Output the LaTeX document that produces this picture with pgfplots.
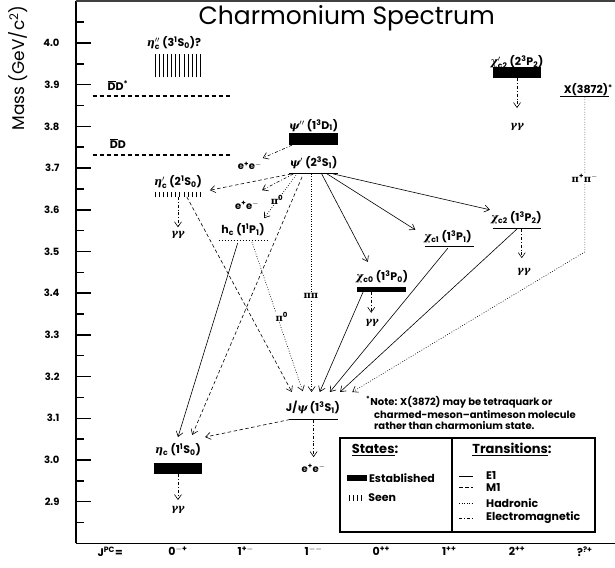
\documentclass[border=0pt]{standalone}
\usepackage{fontspec}
\setmainfont{Poppins}
\newfontfamily\grk{DejaVu Serif}
\usepackage{amsmath}
\usepackage{pgfplots}
\pgfplotsset{compat=1.18}
\usetikzlibrary{arrows.meta}

\newcommand{\g}[1]{{\grk\bfseries\itshape #1}}
\newcommand{\gu}[1]{{\grk\bfseries #1}}

\tikzset{
  e1/.style={black, line width=0.6pt, -{Straight Barb[length=5pt,width=7pt]}},
  m1/.style={e1, dash pattern=on 3.5pt off 2.5pt},
  had/.style={e1, dash pattern=on 0.8pt off 1.7pt},
  em/.style={e1, dash pattern=on 3pt off 2pt on 0.8pt off 2pt},
  lab/.style={font=\bfseries\fontsize{11}{13}\selectfont, inner sep=1pt},
  dec/.style={font=\bfseries\fontsize{10}{12}\selectfont, inner sep=1pt},
}

\begin{document}
\begin{tikzpicture}
\begin{axis}[
  scale only axis, width=539pt, height=542.1pt,
  xmin=-1.504, xmax=6.445, ymin=2.8, ymax=4.1,
  axis x line*=bottom, axis y line*=left,
  axis line style={line width=1.6pt},
  xtick={-1,0,1,2,3,4,5,6},
  xticklabels={{J\textsuperscript{PC}=}, {0\textsuperscript{$-$+}}, {1\textsuperscript{+$-$}},
    {1\textsuperscript{$-$$-$}}, {0\textsuperscript{++}}, {1\textsuperscript{++}},
    {2\textsuperscript{++}}, {?\textsuperscript{?+}}},
  x tick style={draw=none},
  x tick label style={font=\bfseries\fontsize{11}{13}\selectfont},
  ytick={2.9,3.0,3.1,3.2,3.3,3.4,3.5,3.6,3.7,3.8,3.9,4.0},
  minor ytick={2.85,2.95,3.05,3.15,3.25,3.35,3.45,3.55,3.65,3.75,3.85,3.95,4.05},
  yticklabel style={xshift=-13pt, /pgf/number format/fixed, /pgf/number format/fixed zerofill,
    /pgf/number format/precision=1, /pgf/number format/assume math mode=true},
  tick align=inside,
  major tick length=15pt, minor tick length=8pt,
  y tick style={line width=1.5pt, black},
  y tick label style={font=\bfseries\fontsize{10}{12}\selectfont},
  clip=false,
]
\coordinate (BL) at (rel axis cs:0,0);
\draw[line width=1.6pt, black!75] (rel axis cs:0,1) -- (rel axis cs:1,1);

% thresholds
\addplot[black, line width=1.5pt, dash pattern=on 4pt off 3pt] coordinates {(-1.26,3.873) (0.77,3.873)};
\addplot[black, line width=1.5pt, dash pattern=on 4pt off 3pt] coordinates {(-1.26,3.731) (0.77,3.731)};

% established states with width (bars)
\addplot[black, line width=11pt] coordinates {(-0.36,2.980) (0.36,2.980)};   % eta_c
\addplot[black, line width=12pt] coordinates {(1.64,3.770) (2.36,3.770)};    % psi(3770)
\addplot[black, line width=5pt]  coordinates {(2.64,3.410) (3.36,3.410)};    % chi_c0
\addplot[black, line width=11pt] coordinates {(4.64,3.929) (5.36,3.929)};    % chi_c2'
% narrow states
\addplot[black, line width=1pt] coordinates {(1.64,3.097) (2.36,3.097)};     % J/psi
\addplot[black, line width=1pt] coordinates {(1.64,3.686) (2.36,3.686)};     % psi'
\addplot[black, line width=1pt] coordinates {(3.64,3.511) (4.36,3.511)};     % chi_c1
\addplot[black, line width=1pt] coordinates {(4.64,3.556) (5.36,3.556)};     % chi_c2
\addplot[black, line width=1pt] coordinates {(5.64,3.871) (6.36,3.871)};     % X(3872)
% seen states
\addplot[black, line width=1pt, dash pattern=on 1pt off 2pt] coordinates {(0.60,3.526) (1.32,3.526)}; % h_c
\addplot[black, line width=0.6pt, unbounded coords=jump] coordinates {
  (-0.34,3.631) (-0.34,3.643) (-0.34,nan) (-0.28,3.631) (-0.28,3.643) (-0.28,nan)
  (-0.22,3.631) (-0.22,3.643) (-0.22,nan) (-0.16,3.631) (-0.16,3.643) (-0.16,nan)
  (-0.10,3.631) (-0.10,3.643) (-0.10,nan) (-0.04,3.631) (-0.04,3.643) (-0.04,nan)
  (0.02,3.631) (0.02,3.643) (0.02,nan) (0.09,3.631) (0.09,3.643) (0.09,nan)
  (0.15,3.631) (0.15,3.643) (0.15,nan) (0.21,3.631) (0.21,3.643) (0.21,nan)
  (0.27,3.631) (0.27,3.643) (0.27,nan) (0.33,3.631) (0.33,3.643)};
\addplot[black, line width=0.6pt, unbounded coords=jump] coordinates {
  (-0.34,3.918) (-0.34,3.974) (-0.34,nan) (-0.28,3.918) (-0.28,3.974) (-0.28,nan)
  (-0.22,3.918) (-0.22,3.974) (-0.22,nan) (-0.16,3.918) (-0.16,3.974) (-0.16,nan)
  (-0.10,3.918) (-0.10,3.974) (-0.10,nan) (-0.04,3.918) (-0.04,3.974) (-0.04,nan)
  (0.02,3.918) (0.02,3.974) (0.02,nan) (0.09,3.918) (0.09,3.974) (0.09,nan)
  (0.15,3.918) (0.15,3.974) (0.15,nan) (0.21,3.918) (0.21,3.974) (0.21,nan)
  (0.27,3.918) (0.27,3.974) (0.27,nan) (0.33,3.918) (0.33,3.974)};

% E1 transitions
\addplot[e1] coordinates {(2.12,3.686) (2.80,3.475)};
\addplot[e1] coordinates {(2.20,3.686) (3.50,3.552)};
\addplot[e1] coordinates {(2.29,3.686) (4.60,3.600)};
\addplot[e1] coordinates {(2.73,3.403) (2.09,3.163)};
\addplot[e1] coordinates {(3.98,3.508) (2.24,3.163)};
\addplot[e1] coordinates {(5.00,3.554) (2.39,3.163)};
\addplot[e1] coordinates {(0.88,3.520) (0.00,3.055)};
% M1 transitions
\addplot[m1] coordinates {(1.67,3.686) (0.47,3.647)};
\addplot[m1] coordinates {(1.83,3.679) (0.21,3.060)};
\addplot[m1] coordinates {(0.13,3.631) (1.68,3.163)};
\addplot[m1] coordinates {(1.65,3.097) (0.40,3.055)};
% hadronic transitions
\addplot[had] coordinates {(1.74,3.683) (1.27,3.580)};
\addplot[had] coordinates {(1.97,3.686) (1.97,3.163)};
\addplot[had] coordinates {(1.09,3.523) (1.84,3.165)};
\addplot[had] coordinates {(6.00,3.871) (6.00,3.499) (2.57,3.163)};
% electromagnetic decays
\addplot[em] coordinates {(0.00,3.631) (0.00,3.558)};
\addplot[em] coordinates {(0.00,2.966) (0.00,2.904)};
\addplot[em] coordinates {(2.85,3.403) (2.85,3.353)};
\addplot[em] coordinates {(5.07,3.554) (5.07,3.484)};
\addplot[em] coordinates {(5.00,3.916) (5.00,3.844)};
\addplot[em] coordinates {(2.00,3.096) (2.00,3.007)};
\addplot[em] coordinates {(1.68,3.755) (1.25,3.724)};
\addplot[em] coordinates {(1.70,3.686) (1.24,3.647)};

% title and axis label
\node[font=\fontsize{25}{29}\selectfont] at (axis cs:2.49,4.060) {Charmonium Spectrum};
\node[rotate=90, font=\fontsize{17}{19}\selectfont] at (axis cs:-2.36,3.940) {Mass (GeV/c\textsuperscript{2})};

% threshold labels
\node[lab] at (axis cs:-0.885,3.899) {$\overline{\text{D}}$D\textsuperscript{*}};
\node[lab] at (axis cs:-0.885,3.758) {$\overline{\text{D}}$D};

% state labels
\node[lab] at (axis cs:-0.06,4.000) {$\text{\g{η}}_{\text{c}}^{\prime\prime}$ (3\textsuperscript{1}S\textsubscript{0})?};
\node[lab] at (axis cs:0,3.667) {$\text{\g{η}}_{\text{c}}^{\prime}$ (2\textsuperscript{1}S\textsubscript{0})};
\node[lab] at (axis cs:0,3.024) {\g{η}\textsubscript{c} (1\textsuperscript{1}S\textsubscript{0})};
\node[lab] at (axis cs:0.96,3.552) {h\textsubscript{c} (1\textsuperscript{1}P\textsubscript{1})};
\node[lab] at (axis cs:1.99,3.125) {J/\g{ψ} (1\textsuperscript{3}S\textsubscript{1})};
\node[lab] at (axis cs:2.0,3.712) {\g{ψ}$^{\prime}$ (2\textsuperscript{3}S\textsubscript{1})};
\node[lab] at (axis cs:2.0,3.803) {\g{ψ}$^{\prime\prime}$ (1\textsuperscript{3}D\textsubscript{1})};
\node[lab] at (axis cs:3.01,3.439) {\g{χ}\textsubscript{c0} (1\textsuperscript{3}P\textsubscript{0})};
\node[lab] at (axis cs:3.98,3.535) {\g{χ}\textsubscript{c1} (1\textsuperscript{3}P\textsubscript{1})};
\node[lab] at (axis cs:4.99,3.580) {\g{χ}\textsubscript{c2} (1\textsuperscript{3}P\textsubscript{2})};
\node[lab] at (axis cs:5.0,3.954) {$\text{\g{χ}}_{\text{c2}}^{\prime}$ (2\textsuperscript{3}P\textsubscript{2})};
\node[lab] at (axis cs:6.05,3.887) {X(3872)\textsuperscript{*}};

% decay labels
\node[dec] at (axis cs:0,3.540) {\g{γγ}};
\node[dec] at (axis cs:0,2.880) {\g{γγ}};
\node[dec] at (axis cs:2.86,3.329) {\g{γγ}};
\node[dec] at (axis cs:5.10,3.451) {\g{γγ}};
\node[dec] at (axis cs:5.0,3.799) {\g{γγ}};
\node[dec] at (axis cs:1.06,3.705) {e\textsuperscript{+}e\textsuperscript{$-$}};
\node[dec] at (axis cs:1.02,3.611) {e\textsuperscript{+}e\textsuperscript{$-$}};
\node[dec] at (axis cs:2.0,2.980) {e\textsuperscript{+}e\textsuperscript{$-$}};
\node[dec] at (axis cs:1.46,3.624) {\gu{π}\textsuperscript{0}};
\node[dec, fill=white] at (axis cs:1.53,3.343) {\gu{π}\textsuperscript{0}};
\node[dec, fill=white] at (axis cs:1.96,3.393) {\gu{ππ}};
\node[dec, fill=white] at (axis cs:6.0,3.676) {\gu{π}\textsuperscript{+}\gu{π}\textsuperscript{$-$}};

% note
\node[dec, anchor=west] at (axis cs:2.758,3.139) {\textsuperscript{*}Note: X(3872) may be tetraquark or};
\node[dec, anchor=west] at (axis cs:2.876,3.110) {charmed-meson--antimeson molecule};
\node[dec, anchor=west] at (axis cs:2.876,3.0815) {rather than charmonium state.};

% legend box
\draw[line width=1.4pt] (axis cs:2.389,3.0528) rectangle (axis cs:6.150,2.8273);
\draw[line width=1.4pt] (axis cs:4.041,3.0528) -- (axis cs:4.041,2.8273);
\node[font=\bfseries\fontsize{13}{15}\selectfont] at (axis cs:2.906,3.024) {\underline{States}:};
\node[font=\bfseries\fontsize{13}{15}\selectfont] at (axis cs:4.926,3.024) {\underline{Transitions}:};
\draw[line width=6pt] (axis cs:2.49,2.957) -- (axis cs:2.79,2.957);
\node[lab, anchor=west] at (axis cs:2.80,2.957) {Established};
\draw[line width=0.6pt] (axis cs:2.52,2.902) -- (axis cs:2.52,2.916);
\draw[line width=0.6pt] (axis cs:2.58,2.902) -- (axis cs:2.58,2.916);
\draw[line width=0.6pt] (axis cs:2.64,2.902) -- (axis cs:2.64,2.916);
\draw[line width=0.6pt] (axis cs:2.70,2.902) -- (axis cs:2.70,2.916);
\node[lab, anchor=west] at (axis cs:2.79,2.909) {Seen};
\draw[line width=0.6pt] (axis cs:4.145,2.962) -- (axis cs:4.351,2.962);
\draw[line width=0.6pt, dash pattern=on 3.5pt off 2.5pt] (axis cs:4.145,2.935) -- (axis cs:4.351,2.935);
\draw[line width=0.6pt, dash pattern=on 0.8pt off 1.7pt] (axis cs:4.145,2.897) -- (axis cs:4.351,2.897);
\draw[line width=0.6pt, dash pattern=on 3pt off 2pt on 0.8pt off 2pt] (axis cs:4.145,2.861) -- (axis cs:4.351,2.861);
\node[lab, anchor=west] at (axis cs:4.528,2.962) {E1};
\node[lab, anchor=west] at (axis cs:4.528,2.935) {M1};
\node[lab, anchor=west] at (axis cs:4.528,2.897) {Hadronic};
\node[lab, anchor=west] at (axis cs:4.528,2.861) {Electromagnetic};
\end{axis}
\pgfresetboundingbox
\path (BL) ++(-76pt,-23.6pt) rectangle ++(615pt,567pt);
\end{tikzpicture}
\end{document}
